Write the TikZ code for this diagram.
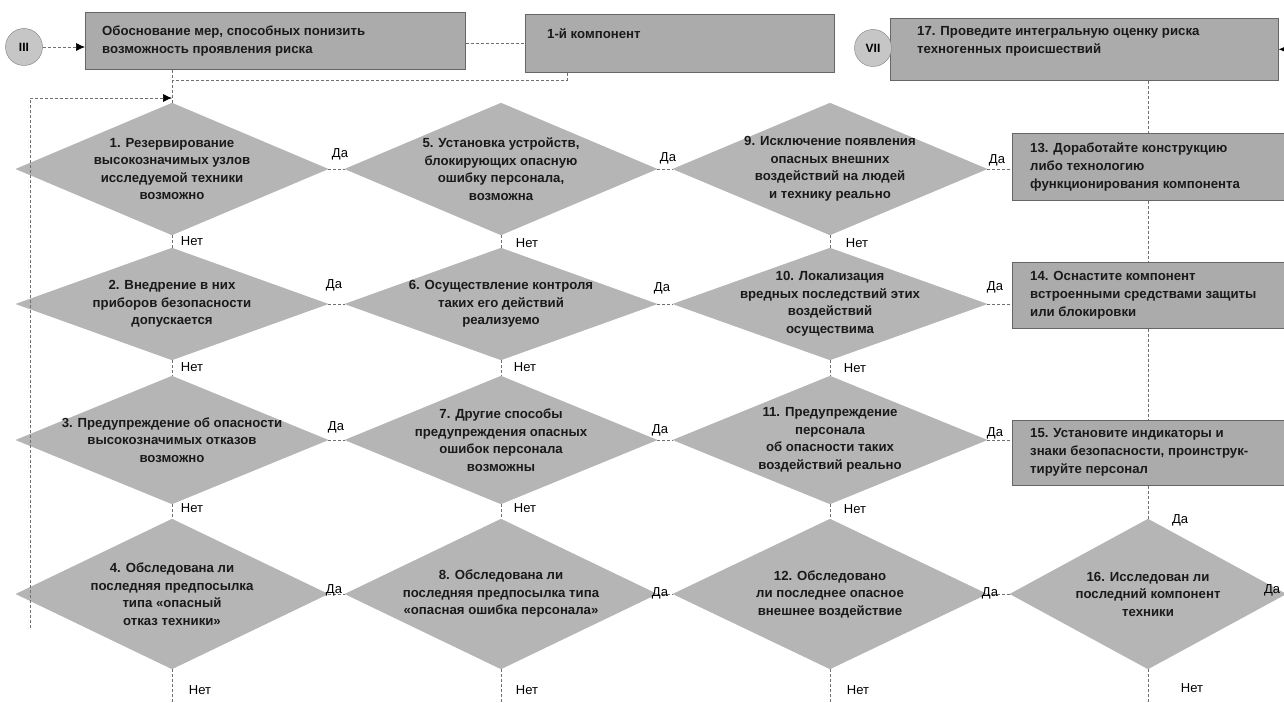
\documentclass[tikz,border=0pt]{standalone}
\usepackage{fontspec}
\setmainfont{Liberation Sans}
\usetikzlibrary{shapes.geometric,arrows.meta}
\definecolor{dfill}{HTML}{B5B5B5}
\definecolor{bfill}{HTML}{ABABAB}
\definecolor{cfill}{HTML}{C6C6C6}
\definecolor{lnc}{HTML}{707070}
\definecolor{txc}{HTML}{1A1A1A}
\begin{document}
\begin{tikzpicture}[x=1pt,y=-1pt,
  dia/.style={diamond, fill=dfill, draw=black!30, line width=0.3pt, inner sep=0pt},
  dtext/.style={align=center, inner sep=0pt, text=txc, font=\bfseries\fontsize{13.2}{17.5}\selectfont},
  box/.style={rectangle, fill=bfill, draw=black!60, line width=0.6pt, inner sep=0pt, anchor=north west},
  btext/.style={align=left, inner sep=0pt, anchor=west, text=txc, font=\bfseries\fontsize{13.2}{18}\selectfont},
  circ/.style={circle, fill=cfill, draw=black!45, line width=0.5pt, minimum size=37pt, inner sep=0pt, font=\bfseries\fontsize{12}{12}\selectfont},
  conn/.style={draw=lnc, line width=0.7pt, dash pattern=on 3pt off 2pt},
  arr/.style={conn, -{Latex[length=9pt,width=8pt,color=black]}},
  lab/.style={inner sep=0pt, font=\fontsize{13}{13}\selectfont},
]
\useasboundingbox (0,0) rectangle (1284,703);

% ---- top row
\node[circ] (c3) at (24,47) {III};
\node[box, minimum width=380pt, minimum height=57pt] (A) at (85,12) {};
\node[btext] (tA) at ([xshift=17pt]A.west) {Обоснование мер, способных понизить\\возможность проявления риска};
\node[box, minimum width=309pt, minimum height=58pt] (K) at (525,14) {};
\node[btext] (tK) at ([shift={(22,-10)}]K.west) {1-й компонент};
\node[box, minimum width=388pt, minimum height=62pt] (B17) at (890,18) {};
\node[btext] (t17) at ([shift={(27,-8)}]B17.west) {17. Проведите интегральную оценку риска\\техногенных происшествий};
\node[circ] (c7) at (873,48) {VII};

% ---- right boxes
\node[box, minimum width=272pt, minimum height=67pt] (B13) at (1012,133) {};
\node[btext] (t13) at ([xshift=18pt]B13.west) {13. Доработайте конструкцию\\либо технологию\\функционирования компонента};
\node[box, minimum width=272pt, minimum height=66pt] (B14) at (1012,262) {};
\node[btext] (t14) at ([xshift=18pt]B14.west) {14. Оснастите компонент\\встроенными средствами защиты\\или блокировки};
\node[box, minimum width=272pt, minimum height=65pt] (B15) at (1012,420) {};
\node[btext] (t15) at ([xshift=18pt]B15.west) {15. Установите индикаторы и\\знаки безопасности, проинструк-\\тируйте персонал};

% ---- diamonds: row 1
\node[dia, minimum width=312pt, minimum height=132pt] (d1) at (172,169) {};
\node[dtext] (t1) at (d1) {1. Резервирование\\высокозначимых узлов\\исследуемой техники\\возможно};
\node[dia, minimum width=312pt, minimum height=132pt] (d5) at (501,169) {};
\node[dtext] (t5) at (d5) {5. Установка устройств,\\блокирующих опасную\\ошибку персонала,\\возможна};
\node[dia, minimum width=314pt, minimum height=132pt] (d9) at (830,169) {};
\node[dtext] (t9) at (d9) {9. Исключение появления\\опасных внешних\\воздействий на людей\\и технику реально};
% row 2
\node[dia, minimum width=312pt, minimum height=112pt] (d2) at (172,304) {};
\node[dtext] (t2) at (d2) {2. Внедрение в них\\приборов безопасности\\допускается};
\node[dia, minimum width=312pt, minimum height=112pt] (d6) at (501,304) {};
\node[dtext] (t6) at (d6) {6. Осуществление контроля\\таких его действий\\реализуемо};
\node[dia, minimum width=314pt, minimum height=112pt] (d10) at (830,304) {};
\node[dtext] (t10) at (d10) {10. Локализация\\вредных последствий этих\\воздействий\\осуществима};
% row 3
\node[dia, minimum width=312pt, minimum height=128pt] (d3) at (172,440) {};
\node[dtext] (t3) at (d3) {3. Предупреждение об опасности\\высокозначимых отказов\\возможно};
\node[dia, minimum width=312pt, minimum height=128pt] (d7) at (501,440) {};
\node[dtext] (t7) at (d7) {7. Другие способы\\предупреждения опасных\\ошибок персонала\\возможны};
\node[dia, minimum width=314pt, minimum height=128pt] (d11) at (830,440) {};
\node[dtext] (t11) at (d11) {11. Предупреждение\\персонала\\об опасности таких\\воздействий реально};
% row 4
\node[dia, minimum width=312pt, minimum height=150pt] (d4) at (172,594) {};
\node[dtext] (t4) at (d4) {4. Обследована ли\\последняя предпосылка\\типа «опасный\\отказ техники»};
\node[dia, minimum width=312pt, minimum height=150pt] (d8) at (501,594) {};
\node[dtext] (t8) at (d8) {8. Обследована ли\\последняя предпосылка типа\\«опасная ошибка персонала»};
\node[dia, minimum width=314pt, minimum height=150pt] (d12) at (830,594) {};
\node[dtext] (t12) at (d12) {12. Обследовано\\ли последнее опасное\\внешнее воздействие};
\node[dia, minimum width=276pt, minimum height=150pt] (d16) at (1148,594) {};
\node[dtext] (t16) at (d16) {16. Исследован ли\\последний компонент\\техники};

% ---- helper coordinates
\coordinate (lb) at (30,628);
\coordinate (jT) at (172,98);
\coordinate (jK) at (172,80);
\coordinate (rx) at (1148,0);
\coordinate (rr) at (1300,0);
\coordinate (bot) at (0,703);

% ---- connectors, top
\draw[arr] (c3.east) -- (c3.east -| A.west);
\draw[conn] (K.west -| A.east) -- (K.west);
\draw[conn] (A.south -| d1.north) -- (d1.north);
\draw[conn] ([xshift=42pt]K.south west) |- (jK);
\draw[arr] (lb) |- (jT);

% right column
\draw[conn] (B17.south -| rx) -- (B13.north -| rx);
\draw[conn] (B13.south -| rx) -- (B14.north -| rx);
\draw[conn] (B14.south -| rx) -- (B15.north -| rx);
\draw[conn] (B15.south -| rx) -- (d16.north);
\draw[arr] (d16.east) -- (d16.east -| rr) -- (rr |- B17.east) -- (B17.east);

% rows (Да)
\draw[conn] (d1.east) -- (d5.west);
\draw[conn] (d5.east) -- (d9.west);
\draw[conn] (d9.east) -- (d9.east -| B13.west);
\draw[conn] (d2.east) -- (d6.west);
\draw[conn] (d6.east) -- (d10.west);
\draw[conn] (d10.east) -- (d10.east -| B14.west);
\draw[conn] (d3.east) -- (d7.west);
\draw[conn] (d7.east) -- (d11.west);
\draw[conn] (d11.east) -- (d11.east -| B15.west);
\draw[conn] (d4.east) -- (d8.west);
\draw[conn] (d8.east) -- (d12.west);
\draw[conn] (d12.east) -- (d16.west);

% columns (Нет)
\draw[conn] (d1.south) -- (d2.north);
\draw[conn] (d2.south) -- (d3.north);
\draw[conn] (d3.south) -- (d4.north);
\draw[conn] (d5.south) -- (d6.north);
\draw[conn] (d6.south) -- (d7.north);
\draw[conn] (d7.south) -- (d8.north);
\draw[conn] (d9.south) -- (d10.north);
\draw[conn] (d10.south) -- (d11.north);
\draw[conn] (d11.south) -- (d12.north);
\draw[conn] (d4.south) -- (d4.south |- bot);
\draw[conn] (d8.south) -- (d8.south |- bot);
\draw[conn] (d12.south) -- (d12.south |- bot);
\draw[conn] (d16.south) -- (d16.south |- bot);

% labels Да
\node[lab] (y1) at (340,154) {Да};
\node[lab] (y5) at (668,158) {Да};
\node[lab] (y9) at (997,160) {Да};
\node[lab] (y2) at (334,285) {Да};
\node[lab] (y6) at (662,288) {Да};
\node[lab] (y10) at (995,287) {Да};
\node[lab] (y3) at (336,427) {Да};
\node[lab] (y7) at (660,430) {Да};
\node[lab] (y11) at (995,433) {Да};
\node[lab] (y4) at (334,590) {Да};
\node[lab] (y8) at (660,593) {Да};
\node[lab] (y12) at (990,593) {Да};
\node[lab] (y16) at (1272,590) {Да};
\node[lab] (y15) at (1180,520) {Да};
% labels Нет
\node[lab] (n1) at (192,241) {Нет};
\node[lab] (n2) at (192,367) {Нет};
\node[lab] (n3) at (192,508) {Нет};
\node[lab] (n4) at (200,690) {Нет};
\node[lab] (n5) at (527,243) {Нет};
\node[lab] (n6) at (525,367) {Нет};
\node[lab] (n7) at (525,508) {Нет};
\node[lab] (n8) at (527,690) {Нет};
\node[lab] (n9) at (857,243) {Нет};
\node[lab] (n10) at (855,368) {Нет};
\node[lab] (n11) at (855,509) {Нет};
\node[lab] (n12) at (858,690) {Нет};
\node[lab] (n16) at (1192,688) {Нет};
\end{tikzpicture}
\end{document}
